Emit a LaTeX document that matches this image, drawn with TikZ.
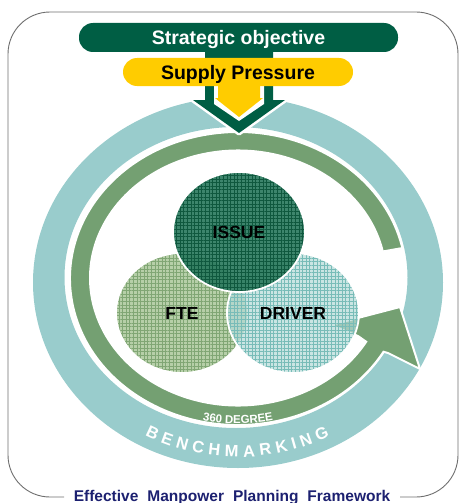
\documentclass[tikz,border=0pt]{standalone}
\usepackage{fontspec}
\setmainfont{Liberation Sans}
\usetikzlibrary{shapes.geometric,patterns.meta,decorations.text}
\definecolor{dkgreen}{RGB}{0,94,68}
\definecolor{yel}{RGB}{255,204,0}
\definecolor{tealr}{RGB}{153,204,204}
\definecolor{ringg}{RGB}{116,160,114}
\definecolor{issuec}{RGB}{40,120,92}
\definecolor{issueg}{RGB}{15,88,62}
\definecolor{ftec}{RGB}{182,207,168}
\definecolor{fteg}{RGB}{128,166,116}
\definecolor{drvc}{RGB}{180,218,215}
\definecolor{drvg}{RGB}{120,188,184}
\definecolor{navy}{RGB}{28,32,112}
\definecolor{framec}{RGB}{110,110,110}
\begin{document}
\begin{tikzpicture}[x=1pt,y=1pt,
  venn/.style={ellipse, minimum width=132pt, minimum height=120pt, inner sep=0pt,
    draw=white, line width=1.8pt, text opacity=1, text=black,
    text height=12.5pt, text depth=0pt,
    font=\fontsize{17.5}{18}\selectfont\bfseries},
  pill/.style={rounded corners=14pt, inner sep=0pt, text height=14pt, text depth=0pt,
    font=\fontsize{19.5}{20}\selectfont\bfseries}]
\useasboundingbox (0,0) rectangle (461,-503);
% frame
\draw[framec, line width=0.9pt, rounded corners=42pt]
  (64,-497) -- (8,-497) -- (8,-12) -- (458,-12) -- (458,-497) -- (400,-497);
% teal ring
\fill[tealr, even odd rule] (238,-282.5) ellipse[x radius=205pt, y radius=185.5pt]
  (236,-277.5) ellipse[x radius=171.5pt, y radius=150.5pt];
% green ring arrow
\fill[ringg, draw=white, line width=2pt, line join=miter]
  (238,-278.5) ++(12:168pt and 146.5pt)
  arc[start angle=12, end angle=330, x radius=168pt, y radius=146.5pt]
  -- (388,-353) -- (420,-369) -- (400,-307) -- (331,-325) -- (358,-336)
  -- (366.2,-341.75)
  arc[start angle=330, end angle=12, x radius=148pt, y radius=127.5pt] -- cycle;
% benchmark texts
\path[decorate, decoration={text along path,
   text={|\fontsize{16.5}{16.5}\selectfont\bfseries|BENCHMARKING},
   text color=white, text align={fit to path}}]
  (238,-282) ++(241:192pt and 175pt)
  arc[start angle=241, end angle=298.5, x radius=192pt, y radius=175pt];
\path[decorate, decoration={text along path,
   text={|\fontsize{11.5}{12}\selectfont\bfseries|360 DEGREE},
   text color=white, text align={center}}]
  (238,-278.5) ++(250:166pt and 145pt)
  arc[start angle=250, end angle=290, x radius=166pt, y radius=145pt];
% venn circles
\node[venn, preaction={fill=ftec}, pattern={Hatch[angle=0,distance=3.6pt,line width=0.6pt]},
  pattern color=fteg] (fte) at (182,-313) {FTE};
\node[venn, fill opacity=0.7, preaction={fill=drvc},
  pattern={Hatch[angle=0,distance=3.6pt,line width=0.6pt]},
  pattern color=drvg] (driver) at (293,-313) {DRIVER};
\node[venn, fill opacity=0.9, preaction={fill=issuec},
  pattern={Hatch[angle=0,distance=3.6pt,line width=0.6pt]},
  pattern color=issueg] (issue) at (239,-232) {ISSUE};
% top arrow
\path[draw=white, line width=5pt, line join=round]
  (205,-45) -- (205,-100) -- (193,-100) -- (239,-133) -- (285,-100) -- (273,-100) -- (273,-45) -- cycle;
\fill[dkgreen]
  (205,-45) -- (205,-100) -- (193,-100) -- (239,-133) -- (285,-100) -- (273,-100) -- (273,-45) -- cycle;
\fill[white] (214,-62) -- (214,-104) -- (239,-121) -- (264,-104) -- (264,-62) -- cycle;
\fill[yel] (218,-80) -- (218,-98) -- (215,-98) -- (239,-117) -- (263,-98) -- (260,-98) -- (260,-80) -- cycle;
% pills
\node[pill, fill=dkgreen, text=white, minimum width=319pt, minimum height=29pt]
  (strat) at (238.5,-37.5) {Strategic objective};
\node[pill, fill=yel, text=black, minimum width=230pt, minimum height=28pt]
  (supply) at (238,-72) {Supply Pressure};
% title
\node[anchor=base, text=navy, inner sep=0pt, font=\fontsize{15.5}{16}\selectfont\bfseries]
  (title) at (232,-501) {Effective\hspace{9pt}Manpower\hspace{9pt}Planning\hspace{9pt}Framework};
\end{tikzpicture}
\end{document}
